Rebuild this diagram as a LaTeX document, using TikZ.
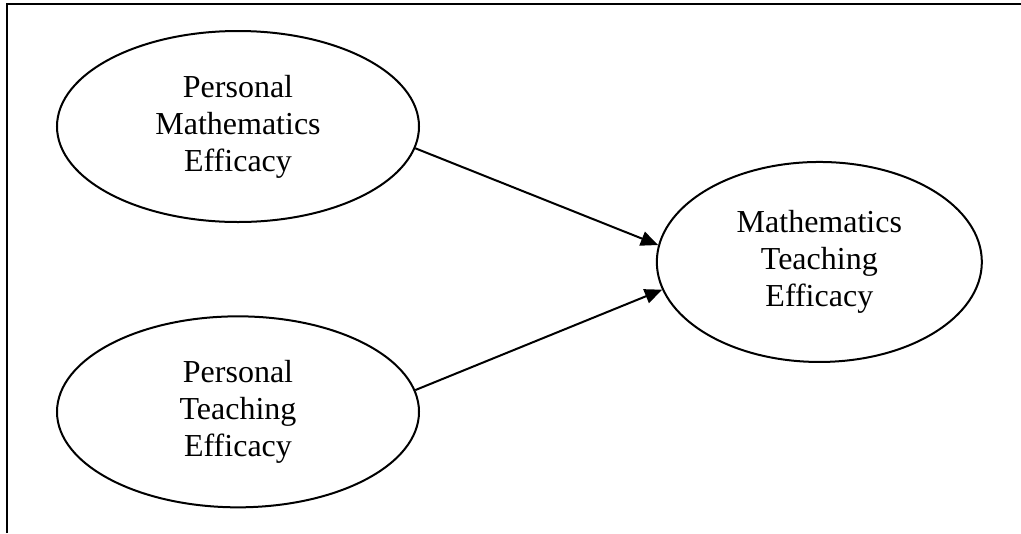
\documentclass[tikz,border=0pt]{standalone}
\usepackage{fontspec}
\setmainfont{Liberation Serif}
\usetikzlibrary{shapes.geometric, arrows.meta, positioning}

\begin{document}
\begin{tikzpicture} [x = 0.75pt, y = -0.75pt, on grid, font = \fontsize{24}{27.7}\selectfont,
	factor/.style = {ellipse, draw, line width = 1.5pt, inner sep = 0pt, align = center}]
			% Page area
			\useasboundingbox (0,0) rectangle (1021,533);
			% Frame : only top and left sides are visible
			\coordinate (frtl) at (7,4);
			\coordinate (frbl) at (7,533);
			\coordinate (frtr) at (1021,4);
			\draw [line width = 1.6pt] (frbl) -- (frtl) -- (frtr);

			% Start Node : the other nodes are measured based to this one
			\node (pme) [factor, minimum width = 271.5pt, minimum height = 143.25pt] at (238,126.5)
			{Personal\\Mathematics\\Efficacy};

			\node (pte) [factor, minimum width = 271.5pt, minimum height = 143.25pt, below = 214pt of
			pme]
			{Personal\\Teaching\\Efficacy};

			% Outcome Node
			\node (mte) [factor, minimum width = 243.75pt, minimum height = 150pt, below right = 101.6pt and
			436pt of pme]
			{Mathematics\\Teaching\\Efficacy};

			% Draw Arrows/Connections
			\path [-{Triangle[length = 13pt, width = 11pt]}, line width = 1.5pt]
			% personal mathematics => outcome
			(pme.-7) edge (mte.174)
			% personal teaching => outcome
			(pte.7) edge (mte.190);
		\end{tikzpicture}
\end{document}
